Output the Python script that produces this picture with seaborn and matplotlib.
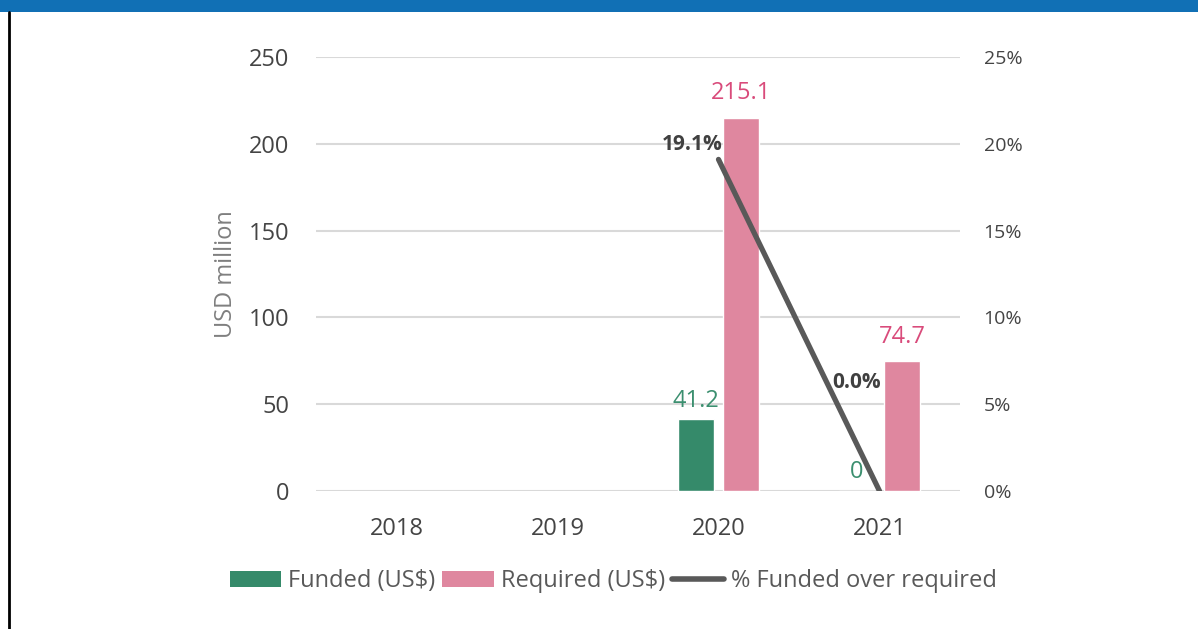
import numpy as np
import pandas as pd
import matplotlib
matplotlib.use("Agg")
import matplotlib.pyplot as plt
from matplotlib.patches import Rectangle, Patch
from matplotlib.lines import Line2D
import seaborn as sns

# ---- data ----
years = ["2018", "2019", "2020", "2021"]
funded = [np.nan, np.nan, 41.2, 0.0]
required = [np.nan, np.nan, 215.1, 74.7]
pct_funded = [np.nan, np.nan, 19.1, 0.0]
series_names = ["Funded (US$)", "Required (US$)"]
line_name = "% Funded over required"
left_ticks = [0, 50, 100, 150, 200, 250]
right_ticks = [0, 5, 10, 15, 20, 25]

GREEN = "#358A6A"
PINK = "#DF879F"
PINK_TXT = "#D94B7B"
GREEN_TXT = "#3B8F6F"
LINE = "#595959"
TICK = "#444444"
GRID = "#D9D9D9"

sns.set_theme(style="white")
plt.rcParams["font.family"] = ["Open Sans", "DejaVu Sans"]

df = pd.DataFrame({
    "year": years * 2,
    "value": funded + required,
    "series": [series_names[0]] * len(years) + [series_names[1]] * len(years),
})

fig = plt.figure(figsize=(11.98, 6.29), dpi=100)
ax = fig.add_axes([316 / 1198, 138 / 629, 644 / 1198, 434 / 629])

sns.barplot(data=df, x="year", y="value", hue="series", order=years,
            hue_order=series_names, palette=[GREEN, PINK], width=0.56,
            gap=0.2, ax=ax, legend=False, saturation=1, errorbar=None)

ax.set_xlim(-0.5, len(years) - 0.5)
ax.set_ylim(0, 250)
ax.set_yticks(left_ticks)
ax.set_xlabel("")
ax.set_ylabel("USD million", fontsize=17, color="#7F7F7F", labelpad=8)
ax.tick_params(axis="both", length=0, labelsize=17, colors=TICK)
ax.tick_params(axis="x", pad=19)
ax.tick_params(axis="y", pad=19)
for s in ax.spines.values():
    s.set_visible(False)
ax.grid(axis="y", color=GRID, linewidth=1.5)
ax.set_axisbelow(True)

# bar value labels
for cont, col, pad in zip(ax.containers, [GREEN_TXT, PINK_TXT], [5, 9]):
    for bar in cont:
        if bar is None:
            continue
        h = bar.get_height()
        if np.isnan(h):
            continue
        ax.annotate(f"{h:g}", (bar.get_x() + bar.get_width() / 2, h),
                    xytext=(0, pad), textcoords="offset points",
                    ha="center", va="bottom", fontsize=17, color=col)

# percent line on secondary axis
ax2 = ax.twinx()
xs = np.arange(len(years))
sns.lineplot(x=xs, y=pct_funded, ax=ax2, color=LINE, linewidth=3.8,
             solid_capstyle="round")
ax2.set_ylim(0, 25)
ax2.set_yticks(right_ticks)
ax2.set_yticklabels([f"{t}%" for t in right_ticks])
ax2.tick_params(axis="y", length=0, labelsize=14, colors=TICK, pad=17)
for s in ax2.spines.values():
    s.set_visible(False)
ax2.grid(False)

offsets = {2: (3, 11), 3: (1, 78)}
for i, v in enumerate(pct_funded):
    if np.isnan(v):
        continue
    ax2.annotate(f"{v:.1f}%", (xs[i], v), xytext=offsets.get(i, (0, 10)),
                 textcoords="offset points", ha="right", va="center",
                 fontsize=15, fontweight="bold", color="#404040")

# legend
handles = [Patch(facecolor=GREEN, edgecolor="none"),
           Patch(facecolor=PINK, edgecolor="none"),
           Line2D([0], [0], color=LINE, linewidth=4, solid_capstyle="round")]
fig.legend(handles, series_names + [line_name], loc="center",
           bbox_to_anchor=(613 / 1198, 1 - 581 / 629), ncol=3, frameon=False,
           fontsize=17, labelcolor="#595959", handlelength=2.2,
           handleheight=0.65, handletextpad=0.28, columnspacing=0.3)

# frame decorations
fig.patches.append(Rectangle((0, 1 - 12 / 629), 1, 12 / 629,
                             transform=fig.transFigure, facecolor="#1170B5",
                             edgecolor="none"))
fig.lines.append(Line2D([9 / 1198, 9 / 1198], [0, 1 - 12 / 629],
                        transform=fig.transFigure, color="black", linewidth=2))

fig.savefig("out.png", dpi=100, facecolor="white")
